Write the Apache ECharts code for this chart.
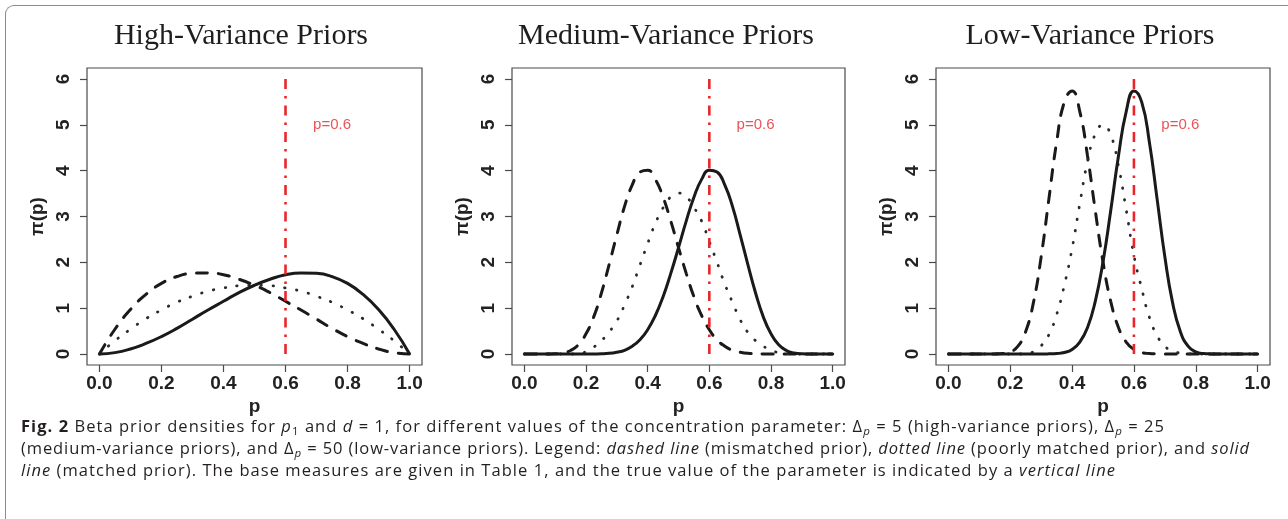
<!DOCTYPE html>
<html>
<head>
<meta charset="utf-8">
<script src="https://cdn.jsdelivr.net/npm/echarts@6/dist/echarts.min.js"></script>
<style>
  html, body { margin: 0; padding: 0; background: #fff; }
  #wrap { position: relative; width: 1288px; height: 519px; overflow: hidden; }
  #frame { position: absolute; left: 5px; top: 5px; width: 1400px; height: 600px;
           border-top: 1.5px solid #8c8c8c; border-left: 1.5px solid #8c8c8c; border-top-left-radius: 9px; }
  #chart { position: absolute; left: 0; top: 0; width: 1288px; height: 519px; }
  #caption { position: absolute; left: 21px; top: 415px; font-family: 'Open Sans', sans-serif;
             font-size: 16.5px; line-height: 22px; color: #231f20; white-space: nowrap; }
  #caption .ln { display: inline-block; }
  #caption sub { font-size: 70%; line-height: 0; vertical-align: -3px; }
</style>
</head>
<body>
<div id="wrap">
  <div id="frame"></div>
  <div id="chart"></div>
  <div id="caption">
    <span class="ln"><b>Fig. 2</b> Beta prior densities for <i>p</i><sub>1</sub> and <i>d</i> = 1, for different values of the concentration parameter: &Delta;<sub><i>p</i></sub> = 5 (high-variance priors), &Delta;<sub><i>p</i></sub> = 25</span><br>
    <span class="ln">(medium-variance priors), and &Delta;<sub><i>p</i></sub> = 50 (low-variance priors). Legend: <i>dashed line</i> (mismatched prior), <i>dotted line</i> (poorly matched prior), and <i>solid</i></span><br>
    <span class="ln"><i>line</i> (matched prior). The base measures are given in Table 1, and the true value of the parameter is indicated by a <i>vertical line</i></span>
  </div>
</div>
<script>
// panel titles and axis ticks
var panelTitles = ['High-Variance Priors', 'Medium-Variance Priors', 'Low-Variance Priors'];
var pTicks = [0, 0.2, 0.4, 0.6, 0.8, 1.0];
var densTicks = [0, 1, 2, 3, 4, 5, 6];
var trueP = 0.6;
var trueLabelAt = [0.75, 5];

// p values the curves were read at
var pCoarse = [0, 0.05, 0.1, 0.15, 0.2, 0.25, 0.3, 0.35, 0.4, 0.45, 0.5,
  0.55, 0.6, 0.65, 0.7, 0.75, 0.8, 0.85, 0.9, 0.95, 1];
var pFine = [0, 0.025, 0.05, 0.075, 0.1, 0.125, 0.15, 0.175, 0.2, 0.225, 0.25,
  0.275, 0.3, 0.325, 0.35, 0.375, 0.4, 0.425, 0.45, 0.475, 0.5,
  0.525, 0.55, 0.575, 0.6, 0.625, 0.65, 0.675, 0.7, 0.725, 0.75,
  0.775, 0.8, 0.825, 0.85, 0.875, 0.9, 0.925, 0.95, 0.975, 1];

// high variance (delta = 5)
var highMismatched = [0, 0.54, 0.97, 1.30, 1.54, 1.69, 1.76, 1.77, 1.73, 1.63, 1.50,
  1.34, 1.15, 0.96, 0.76, 0.56, 0.38, 0.23, 0.11, 0.03, 0];
var highPoor = [0, 0.29, 0.54, 0.77, 0.96, 1.13, 1.26, 1.37, 1.44, 1.49, 1.50,
  1.49, 1.44, 1.37, 1.26, 1.13, 0.96, 0.77, 0.54, 0.29, 0];
var highMatched = [0, 0.03, 0.11, 0.23, 0.38, 0.56, 0.76, 0.96, 1.15, 1.34, 1.50,
  1.63, 1.73, 1.77, 1.76, 1.69, 1.54, 1.30, 0.97, 0.54, 0];

// medium variance (delta = 25)
var medMismatched = [0, 0, 0, 0.001, 0.004, 0.022, 0.077, 0.20, 0.44, 0.81, 1.33,
  1.95, 2.60, 3.22, 3.69, 3.97, 4.01, 3.81, 3.42, 2.90, 2.32,
  1.76, 1.25, 0.84, 0.53, 0.31, 0.17, 0.08, 0.04, 0.015, 0.005,
  0.002, 0, 0, 0, 0, 0, 0, 0, 0, 0];
var medPoor = [0, 0, 0, 0, 0, 0, 0, 0.01, 0.05, 0.15, 0.29,
  0.48, 0.72, 1.07, 1.47, 1.94, 2.41, 2.85, 3.19, 3.43, 3.51,
  3.43, 3.20, 2.90, 2.45, 2.00, 1.53, 1.13, 0.75, 0.47, 0.29,
  0.17, 0.08, 0.03, 0.01, 0, 0, 0, 0, 0, 0];
var medMatched = [0, 0, 0, 0, 0, 0, 0, 0, 0, 0.002, 0.005,
  0.015, 0.04, 0.08, 0.17, 0.31, 0.53, 0.84, 1.25, 1.76, 2.32,
  2.90, 3.42, 3.81, 4.01, 3.97, 3.69, 3.22, 2.60, 1.95, 1.33,
  0.81, 0.44, 0.20, 0.077, 0.022, 0.004, 0.001, 0, 0, 0];

// low variance (delta = 50)
var lowMismatched = [0, 0, 0, 0, 0, 0, 0.002, 0.009, 0.046, 0.17, 0.49,
  1.12, 2.12, 3.38, 4.62, 5.50, 5.74, 5.29, 4.32, 3.13, 2.01,
  1.15, 0.58, 0.26, 0.10, 0.033, 0.01, 0.003, 0, 0, 0,
  0, 0, 0, 0, 0, 0, 0, 0, 0, 0];
var lowPoor = [0, 0, 0, 0, 0, 0, 0, 0, 0, 0, 0,
  0.05, 0.18, 0.42, 0.86, 1.50, 2.30, 3.28, 4.20, 4.80, 5.00,
  4.78, 4.10, 3.15, 2.15, 1.43, 0.80, 0.40, 0.17, 0.06, 0.02,
  0, 0, 0, 0, 0, 0, 0, 0, 0, 0];
var lowMatched = [0, 0, 0, 0, 0, 0, 0, 0, 0, 0, 0,
  0, 0, 0.003, 0.01, 0.033, 0.10, 0.26, 0.58, 1.15, 2.01,
  3.13, 4.32, 5.29, 5.74, 5.50, 4.62, 3.38, 2.12, 1.12, 0.49,
  0.17, 0.046, 0.009, 0.002, 0, 0, 0, 0, 0, 0];

var panels = [
  { p: pCoarse, dashed: highMismatched, dotted: highPoor, solid: highMatched },
  { p: pFine, dashed: medMismatched, dotted: medPoor, solid: medMatched },
  { p: pFine, dashed: lowMismatched, dotted: lowPoor, solid: lowMatched }
];

// plot boxes (pixels)
var boxes = [
  { left: 87, width: 335, titleX: 241 },
  { left: 512, width: 333, titleX: 666 },
  { left: 936, width: 334, titleX: 1090 }
];
var boxTop = 68, boxHeight = 297;

// stretch caption lines to the widths of the printed ones
var captionWidths = [1144, 1229, 1095];
document.querySelectorAll('#caption .ln').forEach(function (el, i) {
  var n = el.textContent.length;
  var w = el.getBoundingClientRect().width;
  el.style.letterSpacing = ((captionWidths[i] - w) / n) + 'px';
});

var ink = '#1a1a1a';
var axisFont = { fontFamily: 'Liberation Sans', fontWeight: 'bold', fontSize: 19, color: '#222' };

var myChart = echarts.init(document.getElementById('chart'), null, { renderer: 'canvas' });

function pairs(xs, ys) {
  return xs.map(function (x, i) { return [x, ys[i]]; });
}

var grids = [], xAxes = [], yAxes = [], titles = [], series = [];

boxes.forEach(function (b, i) {
  grids.push({
    left: b.left, top: boxTop, width: b.width, height: boxHeight,
    show: true, borderColor: '#4a4a4a', borderWidth: 1.2, backgroundColor: 'transparent',
    containLabel: false, outerBoundsMode: 'none'
  });
  xAxes.push({
    type: 'value', gridIndex: i, min: -0.04, max: 1.04,
    name: 'p', nameLocation: 'middle', nameGap: 32, nameMoveOverlap: false,
    nameTextStyle: axisFont,
    axisLine: { show: false, onZero: false },
    splitLine: { show: false },
    axisTick: { show: true, inside: false, length: 7, customValues: pTicks, lineStyle: { color: '#4a4a4a', width: 1.2 } },
    axisLabel: Object.assign({ show: true, margin: 9, customValues: pTicks,
      formatter: function (v) { return v.toFixed(1); } }, axisFont)
  });
  yAxes.push({
    type: 'value', gridIndex: i, min: -0.24, max: 6.24,
    name: 'π(p)', nameLocation: 'middle', nameGap: 40, nameRotate: 90, nameMoveOverlap: false,
    nameTextStyle: axisFont,
    axisLine: { show: false, onZero: false },
    splitLine: { show: false },
    axisTick: { show: true, inside: false, length: 7, customValues: densTicks, lineStyle: { color: '#4a4a4a', width: 1.2 } },
    axisLabel: Object.assign({ show: true, margin: 14, rotate: 90, customValues: densTicks,
      formatter: function (v) { return String(v); } }, axisFont)
  });
  titles.push({
    text: panelTitles[i], left: b.titleX, top: 21, textAlign: 'center', padding: 0,
    textStyle: { fontFamily: 'Liberation Serif', fontWeight: 'normal', fontSize: 30, color: '#1e1e1e' }
  });

  var pn = panels[i];
  series.push({
    type: 'line', xAxisIndex: i, yAxisIndex: i, data: pairs(pn.p, pn.dashed),
    showSymbol: false, smooth: true, silent: true,
    lineStyle: { color: ink, width: 3, type: [11, 11], cap: 'round' }
  });
  series.push({
    type: 'line', xAxisIndex: i, yAxisIndex: i, data: pairs(pn.p, pn.dotted),
    showSymbol: false, smooth: true, silent: true,
    lineStyle: { color: '#2a2a2a', width: 2.8, type: [0.5, 11.5], cap: 'round' }
  });
  series.push({
    type: 'line', xAxisIndex: i, yAxisIndex: i, data: pairs(pn.p, pn.solid),
    showSymbol: false, smooth: true, silent: true,
    lineStyle: { color: ink, width: 3, type: 'solid' }
  });
  // true value of the parameter
  series.push({
    type: 'line', xAxisIndex: i, yAxisIndex: i,
    data: [[trueP, densTicks[0]], [trueP, densTicks[densTicks.length - 1]]],
    showSymbol: false, silent: true,
    lineStyle: { color: '#e8262b', width: 2.6, type: [10, 7, 2.5, 7] }
  });
  series.push({
    type: 'scatter', xAxisIndex: i, yAxisIndex: i, data: [trueLabelAt],
    symbolSize: 0, silent: true,
    label: { show: true, position: 'inside', formatter: 'p=' + trueP,
      fontFamily: 'Liberation Sans', fontSize: 15, color: '#e8262b' }
  });
});

var option = {
  backgroundColor: 'transparent',
  animation: false,
  title: titles,
  grid: grids,
  xAxis: xAxes,
  yAxis: yAxes,
  series: series
};

myChart.setOption(option);
</script>
</body>
</html>
